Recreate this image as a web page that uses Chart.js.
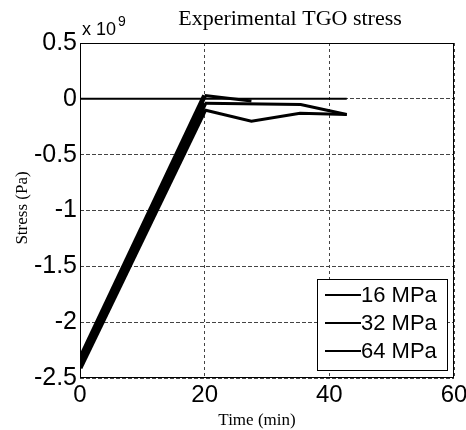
<!DOCTYPE html>
<html>
<head>
<meta charset="utf-8">
<script src="https://cdn.jsdelivr.net/npm/chart.js@4.4.1/dist/chart.umd.min.js"></script>
<style>
  body { margin: 0; background: #fff; }
  #wrap { width: 466px; height: 430px; position: relative; }
</style>
</head>
<body>
<div id="wrap"><canvas id="stress-chart"></canvas></div>
<script>
/**
 * Data (stress in units of 1e9 Pa, time in min)
 */
const seriesLabels = ["16 MPa", "32 MPa", "64 MPa"];

const time16 = [0, 20, 27.5];
const stress16 = [-2.33, 0.03, -0.02];

const time32 = [0, 20, 35.4, 42.8];
const stress32 = [-2.37, -0.04, -0.05, -0.14];

const time64 = [0, 20, 27.5, 35.3, 42.8];
const stress64 = [-2.41, -0.10, -0.20, -0.13, -0.14];

const timeZero = [0, 42.8];
const stressZero = [0, 0];

const xTicks = [0, 20, 40, 60];
const yTicks = [0.5, 0, -0.5, -1, -1.5, -2, -2.5];

function toPoints(xs, ys) {
    return xs.map((x, i) => ({ x: x, y: ys[i] }));
}

/**
 * Extra text and the legend box
 */
const decorPlugin = {
    id: 'decor',
    afterDraw(chart) {
        const ctx = chart.ctx;
        const area = chart.chartArea;
        ctx.save();

        // axes box
        ctx.strokeStyle = '#000';
        ctx.lineWidth = 1;
        ctx.setLineDash([]);
        ctx.strokeRect(area.left + 0.5, area.top + 0.5, area.right - area.left - 1, area.bottom - area.top - 1);

        ctx.fillStyle = '#000';
        // title
        ctx.font = '22px "Liberation Serif", serif';
        ctx.textAlign = 'center';
        ctx.textBaseline = 'alphabetic';
        ctx.fillText('Experimental TGO stress', 290, 25);

        // x label
        ctx.font = '17px "Liberation Serif", serif';
        ctx.fillText('Time (min)', 257, 425);

        // y label
        ctx.save();
        ctx.translate(23, 208);
        ctx.rotate(-Math.PI / 2);
        ctx.textBaseline = 'middle';
        ctx.fillText('Stress (Pa)', 0, 0);
        ctx.restore();

        // multiplier
        ctx.textAlign = 'left';
        ctx.font = '18px "Liberation Sans", Arial, sans-serif';
        ctx.fillText('x 10', 82, 35);
        ctx.font = '14px "Liberation Sans", Arial, sans-serif';
        ctx.fillText('9', 118, 26);

        // legend
        const box = { left: 317, top: 279, right: 447, bottom: 370 };
        ctx.fillStyle = '#fff';
        ctx.fillRect(box.left, box.top, box.right - box.left, box.bottom - box.top);
        ctx.strokeStyle = '#000';
        ctx.strokeRect(box.left + 0.5, box.top + 0.5, box.right - box.left, box.bottom - box.top);

        ctx.font = '22px "Liberation Sans", Arial, sans-serif';
        ctx.textBaseline = 'middle';
        ctx.fillStyle = '#000';
        const shown = chart.data.datasets.filter(ds => ds.inLegend);
        shown.forEach((ds, i) => {
            const y = 295 + i * 28;
            ctx.lineWidth = 2;
            ctx.beginPath();
            ctx.moveTo(325, y);
            ctx.lineTo(361, y);
            ctx.stroke();
            ctx.fillText(ds.label, 361, y + 1);
        });

        ctx.restore();
    }
};

/**
 * Graph
 */
const stressChart = initGraph();

function initGraph() {
    const ctx = document.getElementById('stress-chart');
    const lineStyle = {
        borderColor: '#000',
        borderWidth: 3,
        pointRadius: 0,
        fill: false,
        tension: 0,
        segment: {
            // the cooling ramp is drawn heavier in the reference
            borderWidth: (seg) => seg.p0.parsed.x < 19 ? 5 : 3
        }
    };

    return new Chart(ctx, {
        type: 'line',
        data: {
            datasets: [
                Object.assign({ label: 'zero', inLegend: false, data: toPoints(timeZero, stressZero) }, lineStyle, { borderWidth: 2, segment: {} }),
                Object.assign({ label: seriesLabels[0], inLegend: true, data: toPoints(time16, stress16) }, lineStyle),
                Object.assign({ label: seriesLabels[1], inLegend: true, data: toPoints(time32, stress32) }, lineStyle),
                Object.assign({ label: seriesLabels[2], inLegend: true, data: toPoints(time64, stress64) }, lineStyle)
            ]
        },
        options: {
            animation: false,
            responsive: true,
            maintainAspectRatio: false,
            layout: {
                padding: { left: 0, right: 12, top: 43, bottom: 0 }
            },
            scales: {
                x: {
                    type: 'linear',
                    min: 0,
                    max: 60,
                    afterBuildTicks: (scale) => { scale.ticks = xTicks.map(v => ({ value: v })); },
                    afterFit: (scale) => {
                        scale.height = 52;
                        scale.paddingLeft = 0;
                        scale.paddingRight = 0;
                    },
                    grid: { color: '#444', lineWidth: 1, drawTicks: false },
                    border: { display: false, dash: [3, 3] },
                    ticks: {
                        color: '#000',
                        padding: 3,
                        maxRotation: 0,
                        font: { family: '"Liberation Sans", Arial, sans-serif', size: 24 }
                    }
                },
                y: {
                    type: 'linear',
                    min: -2.5,
                    max: 0.5,
                    afterBuildTicks: (scale) => { scale.ticks = yTicks.map(v => ({ value: v })); },
                    afterFit: (scale) => {
                        scale.width = 80;
                        scale.paddingTop = 0;
                        scale.paddingBottom = 0;
                    },
                    grid: { color: '#444', lineWidth: 1, drawTicks: false },
                    border: { display: false, dash: [4, 2] },
                    ticks: {
                        color: '#000',
                        padding: 3,
                        font: { family: '"Liberation Sans", Arial, sans-serif', size: 25 },
                        callback: function(value) {
                            return String(Math.round(value * 10) / 10);
                        }
                    }
                }
            },
            plugins: {
                legend: { display: false },
                tooltip: { enabled: false }
            }
        },
        plugins: [decorPlugin]
    });
}
</script>
</body>
</html>
